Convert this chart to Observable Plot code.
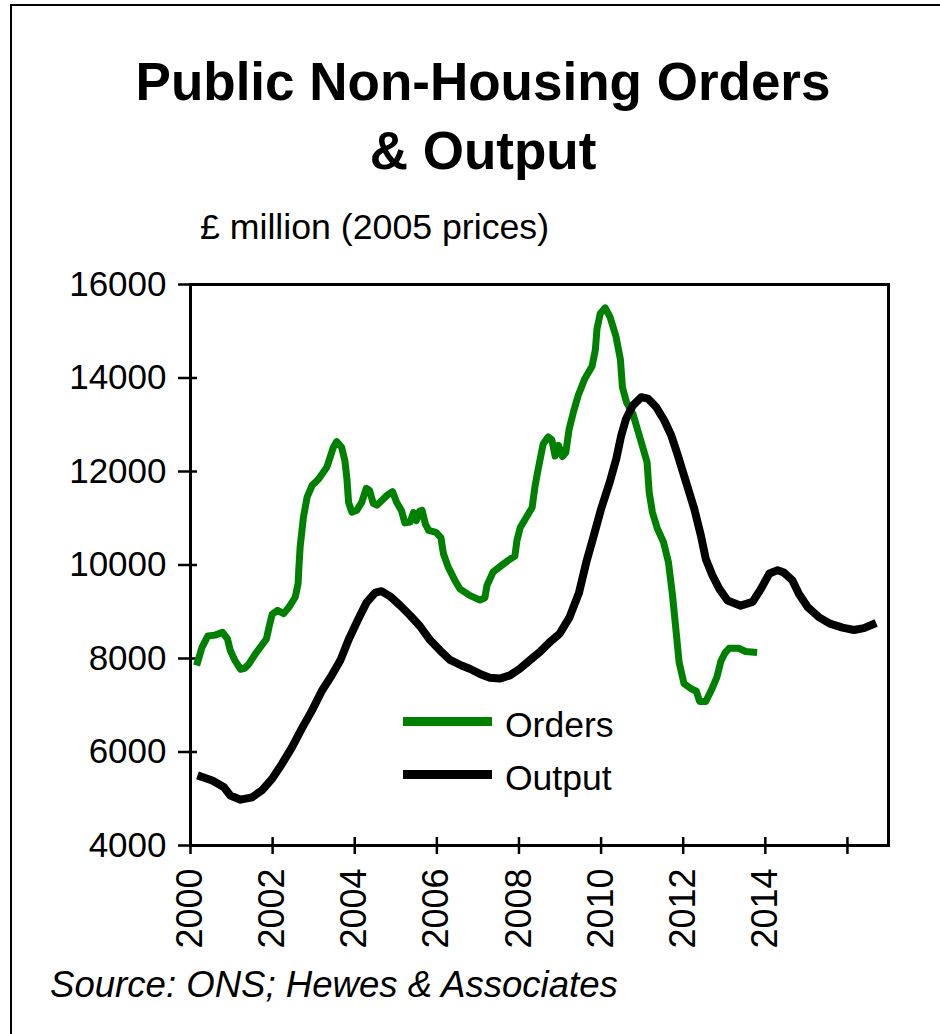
<!DOCTYPE html>
<html><head><meta charset="utf-8">
<script src="https://cdn.jsdelivr.net/npm/d3@7"></script>
<script src="https://cdn.jsdelivr.net/npm/@observablehq/plot@0.6"></script>
<style>
body{margin:0;background:#fff;font-family:"Liberation Sans",Arial,sans-serif;}
#page{position:relative;width:940px;height:1034px;overflow:hidden;background:#fff;}
#border{position:absolute;left:10px;top:4px;width:1000px;height:1100px;border-left:2px solid #000;border-top:2px solid #000;}
.t{position:absolute;white-space:nowrap;color:#000;line-height:1;}
.bar{position:absolute;}
#chart{position:absolute;left:0;top:260px;}
</style></head><body>
<div id="page">
  <div id="border"></div>
  <div class="t" id="title1" style="left:13px;width:940px;text-align:center;top:55px;font-size:53px;font-weight:bold;">Public Non-Housing Orders</div>
  <div class="t" id="title2" style="left:13px;width:940px;text-align:center;top:124px;font-size:53px;font-weight:bold;">&amp; Output</div>
  <div class="t" id="subtitle" style="left:200px;top:210px;font-size:35.7px;">£ million (2005 prices)</div>
  <div id="chart"></div>
  <div class="bar" style="left:403px;top:717px;width:89px;height:9px;background:#008000;"></div>
  <div class="t" style="left:505px;top:708px;font-size:35.5px;">Orders</div>
  <div class="bar" style="left:403px;top:770px;width:89px;height:9px;background:#000;"></div>
  <div class="t" style="left:505px;top:761px;font-size:35.5px;">Output</div>
  <div class="t" id="source" style="left:50px;top:967px;font-size:36.6px;font-style:italic;">Source: ONS; Hewes &amp; Associates</div>
</div>
<script>
// ---- data (decimal years, £ million 2005 prices) ----
const orderYears = [2000.15,2000.28,2000.42,2000.60,2000.78,2000.90,2000.97,2001.08,2001.22,2001.32,2001.42,2001.58,2001.75,2001.85,2001.92,2001.99,2002.12,2002.27,2002.40,2002.55,2002.62,2002.64,2002.67,2002.75,2002.84,2002.96,2003.12,2003.32,2003.48,2003.56,2003.68,2003.76,2003.81,2003.85,2003.93,2004.05,2004.17,2004.28,2004.36,2004.45,2004.54,2004.66,2004.80,2004.92,2005.02,2005.14,2005.22,2005.35,2005.43,2005.50,2005.58,2005.64,2005.72,2005.80,2005.98,2006.10,2006.16,2006.28,2006.44,2006.56,2006.80,2007.05,2007.17,2007.22,2007.37,2007.53,2007.74,2007.90,2007.95,2008.03,2008.18,2008.32,2008.39,2008.47,2008.59,2008.71,2008.80,2008.88,2008.96,2009.06,2009.14,2009.22,2009.32,2009.44,2009.60,2009.78,2009.86,2009.90,2009.98,2010.10,2010.22,2010.36,2010.47,2010.52,2010.62,2010.78,2010.88,2011.00,2011.12,2011.17,2011.25,2011.37,2011.52,2011.64,2011.74,2011.82,2011.90,2012.02,2012.20,2012.32,2012.40,2012.55,2012.70,2012.82,2012.92,2013.02,2013.12,2013.35,2013.52,2013.80];
const orderValues = [7850,8240,8480,8500,8560,8420,8170,7960,7770,7790,7880,8100,8300,8420,8700,8950,9030,8960,9100,9310,9600,9950,10380,11020,11450,11700,11840,12090,12520,12640,12520,12230,11840,11340,11130,11170,11340,11640,11600,11320,11280,11380,11500,11570,11340,11160,10900,10920,11120,10950,11150,11170,10880,10740,10700,10580,10240,9950,9670,9490,9350,9250,9300,9560,9850,9960,10100,10190,10520,10800,11020,11230,11680,12060,12590,12740,12680,12330,12560,12320,12400,12900,13250,13620,13980,14250,14600,15050,15380,15500,15300,14900,14400,13800,13480,13220,12920,12560,12200,11560,11130,10780,10490,10060,9350,8640,7920,7460,7350,7300,7080,7080,7350,7600,7950,8120,8220,8220,8150,8130];

const outputYears = [2000.17,2000.53,2000.81,2000.97,2001.22,2001.50,2001.74,2001.99,2002.23,2002.47,2002.71,2002.96,2003.20,2003.44,2003.65,2003.85,2004.09,2004.29,2004.50,2004.65,2004.86,2005.10,2005.35,2005.59,2005.83,2006.08,2006.32,2006.60,2006.80,2007.05,2007.29,2007.53,2007.78,2008.02,2008.26,2008.51,2008.75,2008.99,2009.23,2009.46,2009.64,2009.80,2010.00,2010.21,2010.37,2010.49,2010.61,2010.77,2010.98,2011.14,2011.34,2011.54,2011.71,2011.87,2012.07,2012.27,2012.43,2012.55,2012.71,2012.88,2013.08,2013.40,2013.69,2013.90,2014.10,2014.30,2014.45,2014.66,2014.82,2015.03,2015.31,2015.59,2015.88,2016.16,2016.40,2016.70];
const outputValues = [5500,5390,5250,5070,4980,5030,5180,5430,5750,6100,6500,6890,7310,7640,7960,8400,8850,9200,9410,9440,9330,9140,8920,8690,8400,8170,7970,7850,7780,7670,7590,7570,7640,7780,7960,8140,8350,8530,8880,9400,10060,10560,11200,11770,12270,12770,13130,13410,13590,13560,13380,13090,12770,12340,11770,11200,10630,10130,9780,9490,9240,9130,9210,9500,9820,9890,9840,9670,9380,9100,8880,8740,8660,8610,8650,8760];

const yTicks = [4000,6000,8000,10000,12000,14000,16000];
const xTicks = [2000,2002,2004,2006,2008,2010,2012,2014,2016];
const xTickLabels = ["2000","2002","2004","2006","2008","2010","2012","2014",""];

const orders = orderYears.map((t, i) => ({t, v: orderValues[i]}));
const output = outputYears.map((t, i) => ({t, v: outputValues[i]}));

const chart = Plot.plot({
  width: 940,
  height: 700,
  marginTop: 24,
  marginLeft: 190,
  marginRight: 52,
  marginBottom: 115,
  style: {background: "transparent", fontFamily: "'Liberation Sans', Arial, sans-serif", fontSize: "35px", color: "#000", overflow: "visible"},
  x: {domain: [2000, 2017], label: null},
  y: {domain: [4000, 16000], label: null},
  marks: [
    Plot.axisY(yTicks, {tickSize: 19, dx: 7, tickPadding: 12, strokeWidth: 2.5, fontSize: 35, label: null, tickFormat: d => String(d)}),
    Plot.axisX(xTicks, {tickSize: 17, dy: -8, tickPadding: 14, tickRotate: -90, strokeWidth: 2.5, fontSize: 36, label: null,
      tickFormat: d => xTickLabels[xTicks.indexOf(d)]}),
    Plot.line(orders, {x: "t", y: "v", stroke: "#008000", strokeWidth: 7, strokeLinecap: "butt", strokeLinejoin: "round"}),
    Plot.line(output, {x: "t", y: "v", stroke: "#000", strokeWidth: 8, strokeLinecap: "butt", strokeLinejoin: "round"}),
    Plot.frame({stroke: "#000", strokeWidth: 3})
  ]
});
document.getElementById("chart").appendChild(chart);
</script>
</body></html>
